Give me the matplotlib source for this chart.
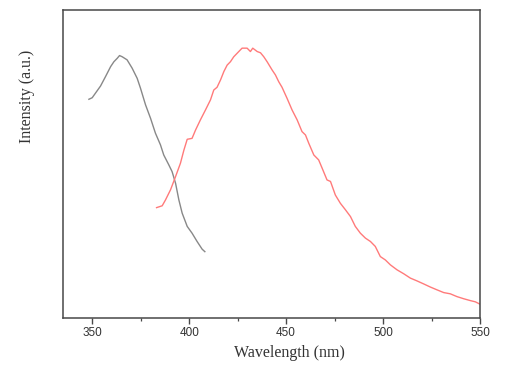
import matplotlib
matplotlib.use('Agg')
from matplotlib import pyplot as plt
from matplotlib.ticker import MultipleLocator

# excitation spectrum (gray)
ex_wl = [348.3, 350.0, 352.6, 354.3, 356.9, 359.5, 361.2, 362.9, 364.1, 365.5, 368.0,
         370.6, 373.2, 374.9, 377.5, 380.1, 382.6, 385.2, 386.9, 389.5, 391.2, 393.0,
         394.7, 396.4, 399.0, 401.5, 404.1, 406.7, 408.1]
ex_int = [71.0, 71.5, 73.8, 75.3, 78.4, 81.6, 83.2, 84.3, 85.2, 84.8, 83.8,
          81.1, 77.8, 74.6, 69.2, 64.8, 60.0, 56.2, 52.9, 49.7, 47.5, 43.7,
          38.3, 34.0, 29.7, 27.5, 24.8, 22.3, 21.5]

# emission spectrum (red)
em_wl = [383.2, 386.1, 387.8, 390.4, 393.0, 395.5, 397.3, 399.0, 401.5, 403.3, 405.8,
         408.4, 411.0, 412.7, 414.4, 416.2, 417.9, 419.6, 421.3, 423.0, 425.6, 427.3,
         429.9, 431.6, 432.8, 435.1, 436.8, 438.5, 440.2, 442.8, 444.5, 446.2, 447.9,
         450.5, 453.1, 455.7, 458.2, 460.0, 461.7, 464.3, 466.8, 468.6, 471.1, 472.9,
         475.4, 478.0, 480.6, 483.2, 485.7, 488.3, 490.9, 493.5, 496.0, 498.6, 501.2,
         503.8, 507.2, 510.7, 514.1, 517.5, 521.0, 524.4, 527.8, 531.3, 534.7, 538.1,
         541.6, 545.0, 547.6, 549.8]
em_int = [35.8, 36.4, 38.3, 41.6, 45.9, 50.2, 54.5, 58.0, 58.3, 61.0, 64.3,
          67.5, 70.8, 74.0, 74.9, 77.3, 80.0, 82.1, 83.2, 84.8, 86.5, 87.6,
          87.6, 86.5, 87.6, 86.5, 86.1, 84.8, 83.2, 80.5, 78.9, 76.7, 74.9,
          71.3, 67.5, 64.3, 60.5, 59.4, 56.7, 52.9, 51.3, 48.6, 44.8, 44.3,
          39.9, 37.2, 35.1, 32.9, 29.7, 27.5, 25.9, 24.8, 23.2, 19.9, 18.8,
          17.2, 15.6, 14.3, 12.9, 12.0, 11.0, 10.0, 9.1, 8.2, 7.8, 6.9,
          6.2, 5.6, 5.2, 4.5]

x_ticks = [350, 400, 450, 500, 550]

fig = plt.figure(figsize=(5.09, 3.70), dpi=100)
ax = fig.add_axes([0.124, 0.141, 0.819, 0.832])

ax.plot(ex_wl, ex_int, color='#888888', lw=1.0)
ax.plot(em_wl, em_int, color='#ff7a7a', lw=1.0)

ax.set_xlim(335, 550)
ax.set_ylim(0, 100)
ax.set_xticks(x_ticks)
ax.xaxis.set_minor_locator(MultipleLocator(25))
ax.set_yticks([])

for sp in ax.spines.values():
    sp.set_color('#484848')
    sp.set_linewidth(1.1)

ax.tick_params(axis='x', which='major', direction='out', length=4.3, width=1.0,
               color='#484848', labelsize=8.5, labelcolor='#333333', pad=2)
ax.tick_params(axis='x', which='minor', direction='out', length=2.2, width=0.9,
               color='#484848')
for lab in ax.get_xticklabels():
    lab.set_family('Liberation Sans')

ax.set_xlabel('Wavelength (nm)', family='Liberation Serif', fontsize=11.5, color='#333333')
ax.set_ylabel('Intensity (a.u.)', family='Liberation Serif', fontsize=11.5, color='#333333')
ax.xaxis.set_label_coords(0.542, -0.089)
ax.yaxis.set_label_coords(-0.067, 0.72)

fig.savefig('out.png', dpi=100)
